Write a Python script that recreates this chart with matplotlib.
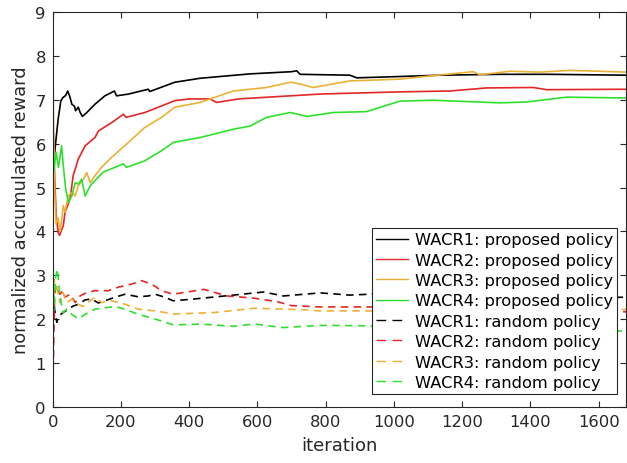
import matplotlib.pyplot as plt
import numpy as np

# values
it_p1 = [0, 3, 7, 16, 24, 30, 38, 44, 51, 56, 64, 67, 75, 80, 87, 100, 124, 153, 181, 187,
         222, 280, 285, 358, 432, 578, 700, 715, 725, 871, 891, 1018, 1133, 1311, 1457, 1683]
wacr1_prop = [5.3, 5.5, 5.9, 6.56, 6.98, 7.05, 7.1, 7.2, 7.05, 6.9, 6.85, 6.75, 6.83, 6.72, 6.62,
              6.71, 6.9, 7.09, 7.2, 7.09, 7.13, 7.24, 7.19, 7.4, 7.49, 7.59, 7.64, 7.66, 7.58,
              7.56, 7.5, 7.53, 7.56, 7.58, 7.58, 7.56]

it_p2 = [0, 4, 10, 16, 20, 31, 36, 51, 60, 75, 95, 124, 134, 173, 207, 215, 270, 358, 402,
         460, 480, 545, 783, 871, 1018, 1164, 1272, 1408, 1448, 1683]
wacr2_prop = [6.75, 5.6, 4.4, 3.98, 3.91, 4.13, 4.43, 4.74, 5.27, 5.65, 5.95, 6.14, 6.29, 6.48,
              6.67, 6.6, 6.71, 6.98, 7.02, 7.02, 6.94, 7.02, 7.13, 7.15, 7.18, 7.2, 7.27, 7.28,
              7.23, 7.24]

it_p3 = [0, 3, 6, 10, 16, 22, 31, 36, 46, 56, 66, 75, 90, 100, 110, 124, 143, 173, 222, 270,
         319, 358, 432, 529, 627, 697, 725, 763, 871, 1018, 1114, 1232, 1252, 1340, 1428, 1516, 1683]
wacr3_prop = [7.97, 6.2, 4.9, 4.17, 4.3, 4.0, 4.59, 4.44, 4.81, 4.89, 4.81, 5.04, 5.19, 5.34,
              5.11, 5.27, 5.46, 5.69, 6.03, 6.37, 6.6, 6.83, 6.94, 7.2, 7.28, 7.4, 7.36, 7.28,
              7.43, 7.47, 7.55, 7.64, 7.57, 7.65, 7.63, 7.67, 7.63]

it_p4 = [0, 3, 10, 17, 26, 31, 38, 46, 56, 66, 75, 85, 95, 110, 124, 148, 182, 207, 216, 270,
         319, 354, 432, 530, 578, 627, 697, 745, 822, 919, 1018, 1114, 1311, 1389, 1506, 1683]
wacr4_prop = [6.49, 5.35, 5.8, 5.46, 5.95, 5.5, 4.97, 4.66, 4.81, 5.11, 5.08, 5.19, 4.81, 5.04,
              5.16, 5.35, 5.46, 5.54, 5.46, 5.61, 5.84, 6.03, 6.14, 6.33, 6.4, 6.6, 6.71, 6.62,
              6.71, 6.73, 6.97, 6.99, 6.93, 6.95, 7.06, 7.04]

it_r1 = [0, 6, 12, 18, 30, 46, 60, 75, 95, 114, 134, 153, 182, 212, 251, 280, 300, 329, 353,
         413, 530, 618, 676, 784, 870, 930, 1660, 1683]
wacr1_rand = [2.6, 2.2, 1.93, 2.08, 2.15, 2.23, 2.3, 2.34, 2.44, 2.46, 2.37, 2.42, 2.5, 2.57,
              2.51, 2.53, 2.57, 2.5, 2.42, 2.46, 2.55, 2.62, 2.53, 2.6, 2.55, 2.57, 2.5, 2.5]

it_r2 = [0, 3, 6, 12, 21, 30, 36, 51, 66, 80, 100, 124, 163, 192, 231, 260, 290, 319, 353,
         443, 511, 590, 658, 700, 784, 930, 1660, 1683]
wacr2_rand = [0.25, 1.5, 2.6, 2.76, 2.57, 2.65, 2.5, 2.57, 2.38, 2.53, 2.61, 2.65, 2.65, 2.73,
              2.8, 2.88, 2.8, 2.65, 2.57, 2.68, 2.53, 2.48, 2.4, 2.31, 2.28, 2.28, 2.17, 2.17]

it_r3 = [0, 4, 12, 21, 30, 41, 56, 75, 90, 110, 124, 143, 173, 212, 251, 300, 355, 470, 590,
         724, 784, 930, 1660, 1683]
wacr3_rand = [1.9, 2.9, 2.73, 2.38, 2.61, 2.38, 2.46, 2.34, 2.29, 2.42, 2.5, 2.38, 2.42, 2.34,
              2.23, 2.19, 2.12, 2.15, 2.25, 2.22, 2.19, 2.19, 2.22, 2.22]

it_r4 = [0, 3, 9, 14, 21, 30, 41, 56, 75, 95, 124, 163, 182, 212, 251, 290, 354, 432, 530,
         590, 676, 783, 930, 1660, 1683]
wacr4_rand = [4.1, 2.2, 2.99, 3.14, 2.53, 2.15, 2.23, 2.11, 2.01, 2.11, 2.23, 2.27, 2.29, 2.23,
              2.11, 2.03, 1.87, 1.89, 1.84, 1.89, 1.81, 1.86, 1.85, 1.73, 1.73]

c_black = '#000000'
c_red = '#e32626'
c_yellow = '#ebb135'
c_green = '#2ee02e'

fig = plt.figure(figsize=(6.27, 4.64), dpi=100)
ax = fig.add_axes([52.7 / 627, 56 / 464, 573.3 / 627, 395 / 464])

ax.plot(it_p1, wacr1_prop, color=c_black, lw=1.2, label='WACR1: proposed policy')
ax.plot(it_p2, wacr2_prop, color=c_red, lw=1.2, label='WACR2: proposed policy')
ax.plot(it_p3, wacr3_prop, color=c_yellow, lw=1.2, label='WACR3: proposed policy')
ax.plot(it_p4, wacr4_prop, color=c_green, lw=1.2, label='WACR4: proposed policy')
dash = (4.5, 3.2)
ax.plot(it_r1, wacr1_rand, color=c_black, lw=1.2, dashes=dash, label='WACR1: random policy')
ax.plot(it_r2, wacr2_rand, color=c_red, lw=1.2, dashes=dash, label='WACR2: random policy')
ax.plot(it_r3, wacr3_rand, color=c_yellow, lw=1.2, dashes=dash, label='WACR3: random policy')
ax.plot(it_r4, wacr4_rand, color=c_green, lw=1.2, dashes=dash, label='WACR4: random policy')

ax.set_xlim(0, 1680)
ax.set_ylim(0, 9)
ax.set_xticks(np.arange(0, 1601, 200))
ax.set_yticks(np.arange(0, 10, 1))

ax.tick_params(direction='in', top=True, right=True, labelsize=11.8,
               colors='#262626', length=4, width=0.8, pad=5)
for s in ax.spines.values():
    s.set_color('#262626')
    s.set_linewidth(0.8)

ax.set_xlabel('iteration', fontsize=13, color='#262626', labelpad=5)
ax.set_ylabel('normalized accumulated reward', fontsize=12.8, color='#262626', labelpad=4)

leg = ax.legend(loc='lower right', bbox_to_anchor=(0.984, 0.033), fontsize=11.7,
                fancybox=False, framealpha=1, edgecolor='#262626', handlelength=1.95,
                handletextpad=0.4, labelspacing=0.33, borderpad=0.25, borderaxespad=0)
leg.get_frame().set_linewidth(0.8)
for i, line in enumerate(leg.get_lines()):
    line.set_linewidth(1.0)
    if i >= 4:
        line.set_dashes((7, 4.5))

fig.savefig('out.png', dpi=100)
